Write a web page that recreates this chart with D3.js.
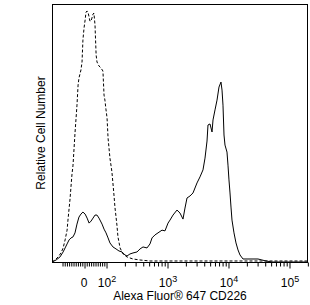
<!DOCTYPE html>
<html>
<head>
<meta charset="utf-8">
<script src="https://cdn.jsdelivr.net/npm/d3@7"></script>
<style>
  html, body { margin: 0; padding: 0; background: #fff; }
  svg { display: block; }
  text { font-family: "Liberation Sans", Arial, sans-serif; fill: #000; }
</style>
</head>
<body>
<svg id="chart" width="310" height="305"></svg>
<script>
// ---- data (fluorescence intensity, relative count) ----
const isotypeX = [-146,-130,-116,-104,-95,-86,-77,-73,-64,-55,-50,-41,-32,-27,-23,-14,-9,-5,0,5,9,14,18,23,27,32,36,41,45,50,55,59,68,77,86,91,95,100,104,108,116,125,135,140,151,157,170,190,221,277,361,526,1120,3475,22950,205000];
const isotypeY = [0,0.8,2.0,3.6,5.6,8.8,12.7,16.7,24.7,34.7,38.6,51.4,62.5,70.5,73.3,76.5,79.7,88.4,93.2,96.4,99.6,100,99.6,97.6,96.0,96.0,97.2,98.8,99.2,94.4,82.5,79.7,78.1,77.3,76.1,66.5,64.5,60.6,57.4,49.4,41.4,35.9,26.7,21.9,14.7,10.0,5.6,3.2,2.0,1.2,0.8,0.4,0.4,0.4,0.4,0.4];

const cd226X = [-146,-125,-108,-95,-86,-77,-68,-59,-50,-41,-32,-23,-14,-5,5,14,23,32,41,50,59,68,82,91,100,108,116,130,146,163,183,205,221,247,277,322,361,404,470,526,568,636,712,828,927,1039,1120,1254,1458,1634,1829,1972,2128,2382,2667,3104,3475,3890,4198,4529,4700,5072,5470,5680,6124,6607,7119,7674,7980,8280,8600,8930,9630,10000,10380,10790,11200,11630,12540,13520,14590,15730,17620,21280,31040,36060,41970,52620,205000];
const cd226Y = [0,0.8,2.0,4.0,5.6,7.2,8.8,9.6,10.0,11.6,15.1,17.9,19.1,19.9,19.1,17.5,15.5,16.3,17.5,18.7,18.7,17.5,15.1,13.1,11.6,9.6,7.6,6.0,5.2,4.4,4.0,2.8,2.4,3.2,3.6,4.0,5.2,6.0,5.6,7.2,9.6,10.8,11.6,12.7,12.4,15.5,16.7,18.7,20.7,19.5,17.1,21.5,25.5,26.3,27.5,31.5,33.9,36.7,41.4,48.2,54.6,55.0,51.8,56.6,60.6,64.5,69.7,71.7,68.5,62.5,50.6,46.6,43.8,38.6,32.7,27.5,21.9,16.7,11.6,7.6,4.8,2.8,1.2,1.2,1.2,0.8,0.4,0,0];

const xMin = -146, xMax = 205000, yMax = 102.8;
const majorTicks = [0, 100, 1000, 10000, 100000];
const majorLabels = ["0", "10|2", "10|3", "10|4", "10|5"];
const minorTicks = [-100,-90,-80,-70,-60,-50,-40,-30,-20,-10,10,20,30,40,50,60,70,80,90,
  200,300,400,500,600,700,800,900,2000,3000,4000,5000,6000,7000,8000,9000,
  20000,30000,40000,50000,60000,70000,80000,90000,200000];
const xTitle = "Alexa Fluor\u00AE 647 CD226";
const yTitle = "Relative Cell Number";

// ---- layout ----
const L = 52, R = 308, T = 4, B = 262;
const svg = d3.select("#chart");

// biexponential-style display transform: linear near zero, log above |100|
const LIN = 100, K = 22 / 61;
function tf(v) {
  const a = Math.abs(v);
  const t = a <= LIN ? (a / LIN) * K : K + Math.log10(a / LIN);
  return v < 0 ? -t : t;
}
const xT = d3.scaleLinear().domain([tf(xMin), tf(xMax)]).range([L, R]);
const x = v => xT(tf(v));
const y = d3.scaleLinear().domain([0, yMax]).range([B, T]);

// frame
svg.append("rect").attr("x", L + 0.5).attr("y", T + 0.5)
  .attr("width", R - L - 1).attr("height", B - T)
  .attr("fill", "none").attr("stroke", "#000").attr("stroke-width", 1);

// axis: minor ticks
const minorAxis = d3.axisBottom(xT).tickValues(minorTicks.map(tf)).tickSize(4).tickFormat("");
const gMinor = svg.append("g").attr("transform", `translate(0.5,${B + 0.5})`).call(minorAxis);
gMinor.select(".domain").remove();
gMinor.selectAll("line").attr("stroke", "#000");

// axis: major ticks
const majorAxis = d3.axisBottom(xT).tickValues(majorTicks.map(tf)).tickSize(6).tickFormat("");
const gMajor = svg.append("g").attr("transform", `translate(0.5,${B + 0.5})`).call(majorAxis);
gMajor.select(".domain").remove();
gMajor.selectAll("line").attr("stroke", "#000");

// tick labels with superscripts
majorTicks.forEach((v, i) => {
  const parts = majorLabels[i].split("|");
  const t = svg.append("text").attr("x", x(v) + (parts.length > 1 ? 1 : 0)).attr("y", 287)
    .attr("text-anchor", "middle").attr("font-size", 12);
  t.append("tspan").text(parts[0]);
  if (parts.length > 1) {
    t.append("tspan").attr("dy", -5).attr("font-size", 9).text(parts[1]);
  }
});

// titles
svg.append("text").attr("x", 180).attr("y", 300).attr("text-anchor", "middle")
  .attr("font-size", 12).text(xTitle);
svg.append("text").attr("transform", "translate(45,133) rotate(-90)")
  .attr("text-anchor", "middle").attr("font-size", 12).text(yTitle);

// curves
const line = d3.line().x(d => x(d[0])).y(d => y(d[1]));
svg.append("path").datum(isotypeX.map((v, i) => [v, isotypeY[i]]))
  .attr("d", line).attr("fill", "none").attr("stroke", "#000")
  .attr("stroke-width", 1).attr("stroke-dasharray", "3,2");
svg.append("path").datum(cd226X.map((v, i) => [v, cd226Y[i]]))
  .attr("d", line).attr("fill", "none").attr("stroke", "#000")
  .attr("stroke-width", 1);
</script>
</body>
</html>
